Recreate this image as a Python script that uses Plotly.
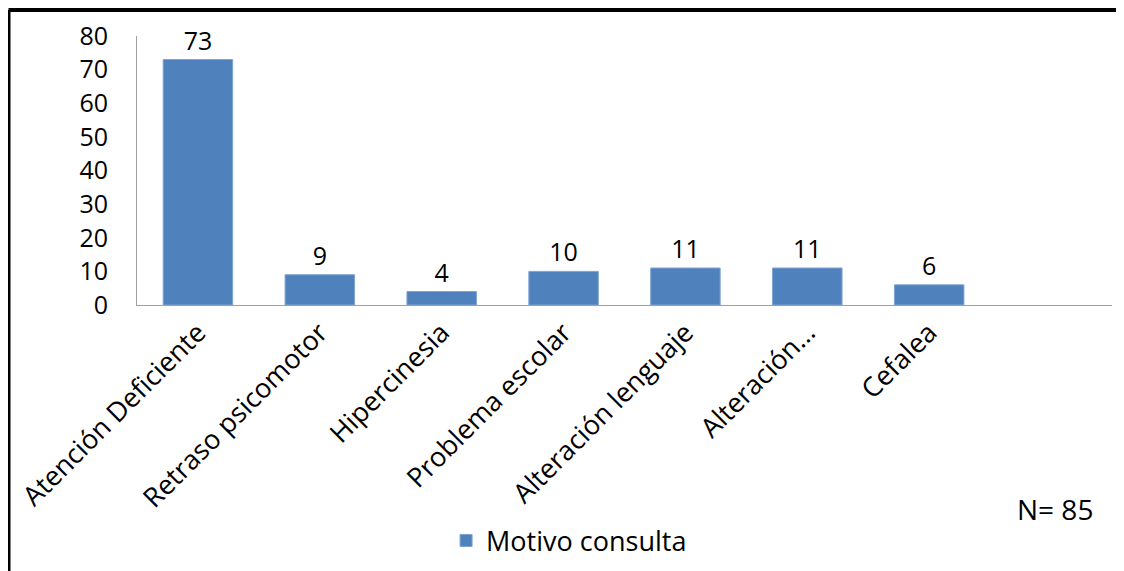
import plotly.graph_objects as go

categories = [
    "Atención Deficiente",
    "Retraso psicomotor",
    "Hipercinesia",
    "Problema escolar",
    "Alteración lenguaje",
    "Alteración…",
    "Cefalea",
]
values = [73, 9, 4, 10, 11, 11, 6]
y_ticks = [0, 10, 20, 30, 40, 50, 60, 70, 80]

FONT = "Open Sans, Noto Sans, sans-serif"
BAR = "#4f81bd"
FS = 25

fig = go.Figure()
fig.add_trace(
    go.Bar(
        x=categories,
        y=values,
        name="Motivo consulta",
        marker=dict(color=BAR, line=dict(color="#7ea3d2", width=1)),
        text=values,
        textposition="outside",
        textfont=dict(size=FS, color="black"),
        cliponaxis=False,
    )
)

# the page adds an 8px body margin, so margins are shifted by that much
fig.update_layout(
    width=1124,
    height=571,
    paper_bgcolor="white",
    plot_bgcolor="white",
    font=dict(family=FONT, size=FS, color="black"),
    margin=dict(l=129, r=20, t=28, b=274),
    bargap=0.43,
    showlegend=True,
    legend=dict(
        orientation="h",
        x=0.317, xanchor="left",
        y=-0.877, yanchor="middle",
        font=dict(size=27),
        itemwidth=30,
    ),
    xaxis=dict(
        type="category",
        range=[-0.5, 7.5],
        tickangle=-45,
        showline=True,
        linecolor="#a0a0a0",
        linewidth=1,
        ticks="",
        showgrid=False,
        automargin=False,
        tickfont=dict(size=27),
    ),
    yaxis=dict(
        range=[0, 80],
        tickvals=y_ticks,
        showline=True,
        linecolor="#a0a0a0",
        linewidth=1,
        ticks="",
        showgrid=False,
        zeroline=False,
        automargin=False,
        tickfont=dict(size=FS),
        ticklabelstandoff=23,
    ),
)

# frame (top and left edges visible in the reference)
fig.add_shape(type="line", xref="paper", yref="paper",
              x0=-0.1318, x1=1.03, y0=1.0967, y1=1.0967,
              line=dict(color="black", width=4))
fig.add_shape(type="line", xref="paper", yref="paper",
              x0=-0.1318, x1=-0.1318, y0=1.0967, y1=-1.05,
              line=dict(color="black", width=4))

fig.add_annotation(
    text="N= 85", xref="paper", yref="paper",
    x=0.983, y=-0.758, xanchor="right", yanchor="middle",
    showarrow=False, font=dict(size=28),
)

fig.write_html("out.html")
